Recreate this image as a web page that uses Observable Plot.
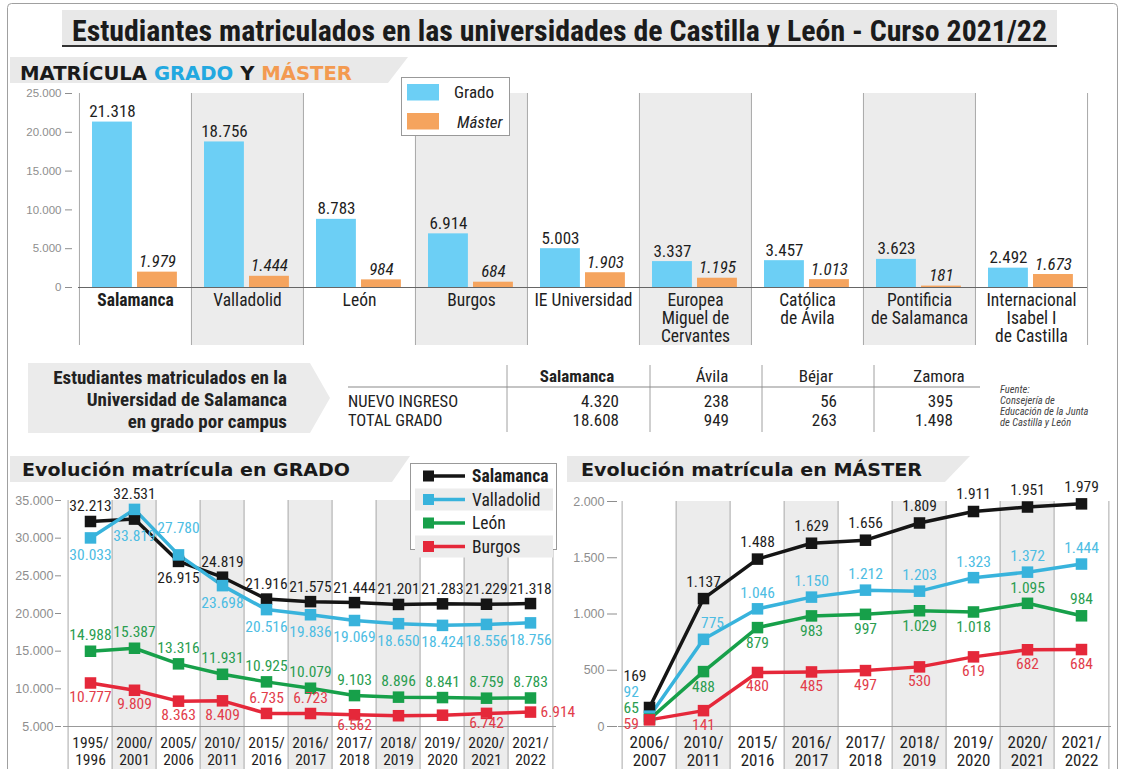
<!DOCTYPE html>
<html><head><meta charset="utf-8">
<script src="https://cdn.jsdelivr.net/npm/d3@7"></script>
<script src="https://cdn.jsdelivr.net/npm/@observablehq/plot@0.6"></script>
<style>
html,body{margin:0;padding:0;background:#fff;}
#page{position:relative;width:1125px;height:769px;overflow:hidden;background:#fff;}
#page svg{position:absolute;}
</style>
</head><body><div id="page"></div>
<script>
// ---------------- DATA ----------------
const titleText = "Estudiantes matriculados en las universidades de Castilla y León - Curso 2021/22";
const universities = ["Salamanca","Valladolid","León","Burgos","IE Universidad","Europea Miguel de Cervantes","Católica de Ávila","Pontificia de Salamanca","Internacional Isabel I de Castilla"];
const uniLabels = ["Salamanca","Valladolid","León","Burgos","IE Universidad","Europea\nMiguel de\nCervantes","Católica\nde Ávila","Pontificia\nde Salamanca","Internacional\nIsabel I\nde Castilla"];
const gradoValues = [21318,18756,8783,6914,5003,3337,3457,3623,2492];
const masterValues = [1979,1444,984,684,1903,1195,1013,181,1673];
const barYTicks = [0,5000,10000,15000,20000,25000];

const campus = ["Salamanca","Ávila","Béjar","Zamora"];
const tableRows = ["NUEVO INGRESO","TOTAL GRADO"];
const nuevoIngreso = [4320,238,56,395];
const totalGrado = [18608,949,263,1498];
const tableLabel = ["Estudiantes matriculados en la","Universidad de Salamanca","en grado por campus"];
const sourceLines = ["Fuente:","Consejería de","Educación de la Junta","de Castilla y León"];

const series = ["Salamanca","Valladolid","León","Burgos"];
const gradoYears = ["1995/1996","2000/2001","2005/2006","2010/2011","2015/2016","2016/2017","2017/2018","2018/2019","2019/2020","2020/2021","2021/2022"];
const gradoSalamanca = [32213,32531,26915,24819,21916,21575,21444,21201,21283,21229,21318];
const gradoValladolid = [30033,33819,27780,23698,20516,19836,19069,18650,18424,18556,18756];
const gradoLeon = [14988,15387,13316,11931,10925,10079,9103,8896,8841,8759,8783];
const gradoBurgos = [10777,9809,8363,8409,6735,6723,6562,6430,6500,6742,6914];
const gradoYTicks = [5000,10000,15000,20000,25000,30000,35000];

const masterYears = ["2006/2007","2010/2011","2015/2016","2016/2017","2017/2018","2018/2019","2019/2020","2020/2021","2021/2022"];
const masterSalamanca = [169,1137,1488,1629,1656,1809,1911,1951,1979];
const masterValladolid = [92,775,1046,1150,1212,1203,1323,1372,1444];
const masterLeon = [65,488,879,983,997,1029,1018,1095,984];
const masterBurgos = [59,141,480,485,497,530,619,682,684];
const masterYTicks = [0,500,1000,1500,2000];

// ---------------- STYLE ----------------
const FN = '"Liberation Sans Narrow","Roboto Condensed","DejaVu Sans Condensed","Arial Narrow",sans-serif';
const FR = '"Liberation Sans",Arial,sans-serif';
const FH = '"DejaVu Sans",Verdana,sans-serif';
const lineColors = ["#151515","#38b3dc","#17a04a","#e5283a"];
const labelColors = ["#1e1e1e","#4dbde3","#2a9d50","#e23d4b"];
const blue = "#6ccff5", orange = "#f5a45e", band = "#ececec", sep = "#a8a8a8", axisGray = "#8e8e8e";

const loc = d3.formatLocale({decimal:",", thousands:".", grouping:[3], currency:["","€"]});
const fmt = loc.format(",d");
const page = d3.select("#page");

// ---------------- BACKGROUND LAYER ----------------
const bg = page.append("svg").attr("width",1125).attr("height",769).style("left","0px").style("top","0px");
bg.append("rect").attr("x",7.5).attr("y",3.5).attr("width",1110).attr("height",820).attr("rx",4)
  .attr("fill","none").attr("stroke","#a0a0a0");
bg.append("rect").attr("x",62).attr("y",10).attr("width",995).attr("height",36).attr("fill","#e8e8e8");
bg.append("line").attr("x1",62).attr("x2",1057).attr("y1",46).attr("y2",46).attr("stroke","#333").attr("stroke-width",2);
bg.append("text").attr("x",72).attr("y",41).attr("font-family",FN).attr("font-weight","bold").attr("font-size",29)
  .attr("fill","#1b1b1b").attr("textLength",975).attr("lengthAdjust","spacingAndGlyphs").text(titleText);

function headerBand(x0, xTop, xBot, y0, y1) {
  bg.append("polygon").attr("points",`${x0},${y0} ${xTop},${y0} ${xBot},${y1} ${x0},${y1}`).attr("fill","#e9e9e9");
}
headerBand(10, 408, 388, 57, 83);
headerBand(10, 410, 392, 456, 482);
headerBand(567, 970, 945, 456, 482);

const h1 = bg.append("text").attr("x",20).attr("y",80).attr("font-family",FH).attr("font-weight","bold")
  .attr("font-size",19.5).attr("textLength",332).attr("lengthAdjust","spacingAndGlyphs");
[["MATRÍCULA ","#1a1a1a"],["GRADO","#22a8e0"],[" Y ","#1a1a1a"],["MÁSTER","#f39a50"]].forEach(([t,c])=>h1.append("tspan").attr("fill",c).text(t));
bg.append("text").attr("x",22).attr("y",476).attr("font-family",FH).attr("font-weight","bold").attr("font-size",17.5)
  .attr("fill","#1a1a1a").attr("textLength",328).attr("lengthAdjust","spacingAndGlyphs").text("Evolución matrícula en GRADO");
bg.append("text").attr("x",581).attr("y",476).attr("font-family",FH).attr("font-weight","bold").attr("font-size",17.5)
  .attr("fill","#1a1a1a").attr("textLength",341).attr("lengthAdjust","spacingAndGlyphs").text("Evolución matrícula en MÁSTER");

// table label arrow
bg.append("polygon").attr("points","28,363 310,363 330,398 310,433 28,433").attr("fill","#ebebeb");
tableLabel.forEach((t,i)=>bg.append("text").attr("x",287).attr("y",384+i*22).attr("text-anchor","end")
  .attr("font-family",FN).attr("font-weight","bold").attr("font-size",19).attr("fill","#222").text(t));

// campus table
const colSeps = [507,650,762,874];
colSeps.forEach(x=>bg.append("line").attr("x1",x).attr("x2",x).attr("y1",365).attr("y2",432).attr("stroke","#a0a0a0"));
bg.append("line").attr("x1",348).attr("x2",980).attr("y1",387).attr("y2",387).attr("stroke","#8a8a8a").attr("stroke-width",1.2);
const headCenters = [577,712,816,939];
const valRight = [619,729,837,953];
campus.forEach((c,i)=>bg.append("text").attr("x",headCenters[i]).attr("y",382).attr("text-anchor","middle")
  .attr("font-family",FN).attr("font-size",17).attr("font-weight",i===0?"bold":"normal").attr("fill","#222").text(c));
[nuevoIngreso,totalGrado].forEach((vals,r)=>{
  const y = 407 + r*19;
  bg.append("text").attr("x",348).attr("y",y).attr("font-family",FN).attr("font-size",16.5).attr("fill","#222").text(tableRows[r]);
  vals.forEach((v,i)=>bg.append("text").attr("x",valRight[i]).attr("y",y).attr("text-anchor","end")
    .attr("font-family",FN).attr("font-size",17).attr("fill","#222").text(fmt(v)));
});
sourceLines.forEach((t,i)=>bg.append("text").attr("x",1000).attr("y",393+i*11).attr("font-family",FN)
  .attr("font-style","italic").attr("font-size",10.5).attr("fill","#444").text(t));

// ---------------- BAR CHART ----------------
const barRows = universities.map((u,i)=>({uni:u, label:uniLabels[i], grado:gradoValues[i], master:masterValues[i]}));
const bandUnis = universities.filter((_,i)=>i%2===1);
const BAR = {svgTop:80, left:78, right:1087, top:93, bottom:287};
const bwB = (BAR.right-BAR.left)/universities.length;
const barPlot = Plot.plot({
  width:1125, height:280,
  marginLeft:BAR.left, marginRight:1125-BAR.right, marginTop:BAR.top-BAR.svgTop, marginBottom:280-(BAR.bottom-BAR.svgTop),
  style:{background:"transparent", overflow:"visible", fontFamily:FN},
  x:{domain:universities, padding:0, axis:null},
  y:{domain:[0,25000], axis:null},
  marks:[
    Plot.cell(bandUnis, {x:d=>d, fill:band, insetBottom:-58}),
    Plot.ruleX(universities, {x:d=>d, dx:-bwB/2, stroke:sep, insetBottom:-58}),
    Plot.ruleX(universities.slice(-1), {x:d=>d, dx:bwB/2, stroke:sep, insetBottom:-58}),
    Plot.axisY({ticks:barYTicks, tickFormat:fmt, tickSize:7, tickPadding:4, dx:-6, fontSize:11.5, fontFamily:FR, color:axisGray}),
    Plot.barY(barRows, {x:"uni", y:"grado", fill:blue, insetLeft:13, insetRight:bwB-53}),
    Plot.barY(barRows, {x:"uni", y:"master", fill:orange, insetLeft:58, insetRight:bwB-98}),
    Plot.ruleY([0], {stroke:"#666", strokeWidth:1.2}),
    Plot.text(barRows, {x:"uni", y:"grado", text:d=>fmt(d.grado), dx:33-bwB/2, dy:-5, lineAnchor:"bottom", fontSize:17, fill:"#1e1e1e"}),
    Plot.text(barRows, {x:"uni", y:"master", text:d=>fmt(d.master), dx:78-bwB/2, dy:-5, lineAnchor:"bottom", fontSize:17, fontStyle:"italic", fill:"#1e1e1e"}),
    Plot.text(barRows.filter(d=>d.uni==="Salamanca"), {x:"uni", y:0, text:"label", dy:6, lineAnchor:"top", fontSize:17.5, fontWeight:"bold", fill:"#1e1e1e"}),
    Plot.text(barRows.filter(d=>d.uni!=="Salamanca"), {x:"uni", y:0, text:"label", dy:6, lineAnchor:"top", fontSize:17.5, lineHeight:1.02, fill:"#1e1e1e"})
  ]
});
d3.select(barPlot).style("left","0px").style("top",BAR.svgTop+"px");
page.node().appendChild(barPlot);

// ---------------- LINE CHART HELPERS ----------------
function makeRows(years, valueArrays) {
  return series.flatMap((s,si)=>years.map((yr,i)=>({series:s, si, year:yr, i, value:valueArrays[si][i]})));
}
function labelMarks(rows) {
  return d3.groups(rows, d=>[d.dx,d.dy,d.anchor,d.si].join("|")).map(([,g])=>
    Plot.text(g, {x:"year", y:"anchorValue", text:d=>fmt(d.value), dx:g[0].dx, dy:g[0].dy, textAnchor:g[0].anchor,
      fill:labelColors[g[0].si], fontSize:15.5, fontFamily:FN}));
}
const yearLabel = d=>d.replace("/","/\n");

// ---------------- GRADO EVOLUTION ----------------
const gradoArrays = [gradoSalamanca,gradoValladolid,gradoLeon,gradoBurgos];
const gradoRows = makeRows(gradoYears, gradoArrays);
const gradoLabelDy = {Salamanca:-15, Valladolid:17, "León":-16, Burgos:14};
const gradoTweaks = [
  {series:"Salamanca", year:"2005/2006", dy:17},
  {series:"Valladolid", year:"2005/2006", dy:-27},
  {series:"Burgos", year:"2015/2016", dy:-15},
  {series:"Burgos", year:"2016/2017", dy:-15},
  {series:"Burgos", year:"2017/2018", dy:10},
  {series:"Burgos", year:"2020/2021", dy:10},
  {series:"Burgos", year:"2021/2022", dy:0, dx:10, anchor:"start"}
];
const gradoUnlabeled = [["Burgos","2018/2019"],["Burgos","2019/2020"]];
const gradoLabels = gradoRows.filter(d=>!gradoUnlabeled.some(([s,y])=>s===d.series&&y===d.year)).map(d=>{
  const t = gradoTweaks.find(e=>e.series===d.series&&e.year===d.year) || {};
  const dy = t.dy ?? gradoLabelDy[d.series];
  let anchorValue = d.value;
  if (d.si < 2) {
    const pair = [gradoSalamanca[d.i], gradoValladolid[d.i]];
    anchorValue = dy < 0 ? Math.max(...pair) : Math.min(...pair);
  }
  return {...d, dy, dx:t.dx ?? 0, anchor:t.anchor ?? "middle", anchorValue};
});
const G = {svgLeft:0, svgTop:450, w:600, h:319, left:63, right:556, top:500, bottom:726};
const bwG = (G.right-G.left)/gradoYears.length;
const gradoPlot = Plot.plot({
  width:G.w, height:G.h,
  marginLeft:G.left-G.svgLeft, marginRight:G.w-(G.right-G.svgLeft), marginTop:G.top-G.svgTop, marginBottom:G.h-(G.bottom-G.svgTop),
  style:{background:"transparent", overflow:"visible", fontFamily:FN},
  x:{domain:gradoYears, padding:0, axis:null},
  y:{domain:[5000,35000], axis:null},
  color:{domain:series, range:lineColors},
  marks:[
    Plot.cell(gradoYears.filter((_,i)=>i%2===1), {x:d=>d, fill:band, insetBottom:-50}),
    Plot.ruleX(gradoYears, {x:d=>d, dx:-bwG/2, stroke:sep, insetBottom:-50}),
    Plot.ruleX(gradoYears.slice(-1), {x:d=>d, dx:bwG/2, stroke:sep, insetBottom:-50}),
    Plot.ruleY([5000], {stroke:"#999"}),
    Plot.axisY({ticks:gradoYTicks, tickFormat:fmt, tickSize:6, tickPadding:2, dx:-2, fontSize:12.5, fontFamily:FR, color:axisGray}),
    Plot.text(gradoYears, {x:d=>d, frameAnchor:"bottom", text:yearLabel, dy:10, lineAnchor:"top", fontSize:15.5, lineHeight:1.08, fill:"#1e1e1e"}),
    Plot.line(gradoRows, {x:"year", y:"value", z:"series", stroke:"series", strokeWidth:3.5}),
    Plot.dot(gradoRows, {x:"year", y:"value", fill:"series", symbol:"square", r:6.5}),
    ...labelMarks(gradoLabels)
  ]
});
d3.select(gradoPlot).style("left",G.svgLeft+"px").style("top",G.svgTop+"px");
page.node().appendChild(gradoPlot);

// ---------------- MASTER EVOLUTION ----------------
const masterArrays = [masterSalamanca,masterValladolid,masterLeon,masterBurgos];
const masterRows = makeRows(masterYears, masterArrays);
const masterLabelDy = {Salamanca:-17, Valladolid:-16, "León":15, Burgos:14};
const masterTweaks = [
  {series:"Valladolid", year:"2010/2011", dx:9},
  {series:"León", year:"2020/2021", dy:-15},
  {series:"León", year:"2021/2022", dy:-17}
];
const masterLabels = masterRows.map(d=>{
  if (d.i === 0) return {...d, anchorValue:0, dy:-50+16*d.si, dx:-26, anchor:"start"};
  const t = masterTweaks.find(e=>e.series===d.series&&e.year===d.year) || {};
  return {...d, anchorValue:d.value, dy:t.dy ?? masterLabelDy[d.series], dx:t.dx ?? 0, anchor:"middle"};
});
const M = {svgLeft:560, svgTop:450, w:565, h:319, left:618, right:1111, top:501, bottom:726};
const bwM = (M.right-M.left)/masterYears.length;
const masterPlot = Plot.plot({
  width:M.w, height:M.h,
  marginLeft:M.left-M.svgLeft, marginRight:M.w-(M.right-M.svgLeft), marginTop:M.top-M.svgTop, marginBottom:M.h-(M.bottom-M.svgTop),
  style:{background:"transparent", overflow:"visible", fontFamily:FN},
  x:{domain:masterYears, padding:0, axis:null},
  y:{domain:[0,2000], axis:null},
  color:{domain:series, range:lineColors},
  marks:[
    Plot.cell(masterYears.filter((_,i)=>i%2===1), {x:d=>d, fill:band, insetBottom:-50}),
    Plot.ruleX(masterYears, {x:d=>d, dx:-bwM/2, stroke:sep, insetBottom:-50}),
    Plot.ruleX(masterYears.slice(-1), {x:d=>d, dx:bwM/2, stroke:sep, insetBottom:-50}),
    Plot.ruleY([0], {stroke:"#999"}),
    Plot.axisY({ticks:masterYTicks, tickFormat:fmt, tickSize:10, tickPadding:3, dx:-1, fontSize:12.5, fontFamily:FR, color:axisGray}),
    Plot.text(masterYears, {x:d=>d, frameAnchor:"bottom", text:yearLabel, dy:8, lineAnchor:"top", fontSize:17, lineHeight:1.08, fill:"#1e1e1e"}),
    Plot.line(masterRows, {x:"year", y:"value", z:"series", stroke:"series", strokeWidth:3.5}),
    Plot.dot(masterRows, {x:"year", y:"value", fill:"series", symbol:"square", r:6.5}),
    ...labelMarks(masterLabels)
  ]
});
d3.select(masterPlot).style("left",M.svgLeft+"px").style("top",M.svgTop+"px");
page.node().appendChild(masterPlot);

// ---------------- LEGENDS (foreground) ----------------
const fg = page.append("svg").attr("width",1125).attr("height",769).style("left","0px").style("top","0px").style("pointer-events","none");
fg.append("rect").attr("x",401.5).attr("y",77.5).attr("width",108).attr("height",58).attr("fill","#fff").attr("stroke","#999");
[["Grado",blue,"normal"],["Máster",orange,"italic"]].forEach(([t,c,st],i)=>{
  fg.append("rect").attr("x",407).attr("y",84+i*29).attr("width",32).attr("height",16.5).attr("fill",c);
  fg.append("text").attr("x",454+i*3).attr("y",98+i*30).attr("font-family",FN).attr("font-size",17).attr("font-style",st).attr("fill","#222").text(t);
});
fg.append("rect").attr("x",410.5).attr("y",463.5).attr("width",146).attr("height",86).attr("fill","#fff").attr("stroke","#999");
series.forEach((s,i)=>{
  const cy = 476 + i*23.5;
  if (i%2===1) fg.append("rect").attr("x",415).attr("y",cy-11).attr("width",138).attr("height",22).attr("fill",band);
  fg.append("line").attr("x1",423).attr("x2",465).attr("y1",cy).attr("y2",cy).attr("stroke",lineColors[i]).attr("stroke-width",3.5);
  fg.append("rect").attr("x",423).attr("y",cy-5.5).attr("width",11).attr("height",11).attr("fill",lineColors[i]);
  fg.append("text").attr("x",472).attr("y",cy+6).attr("font-family",FN).attr("font-size",17.5)
    .attr("font-weight",i===0?"bold":"normal").attr("fill","#1e1e1e").text(s);
});
</script>
</body></html>
